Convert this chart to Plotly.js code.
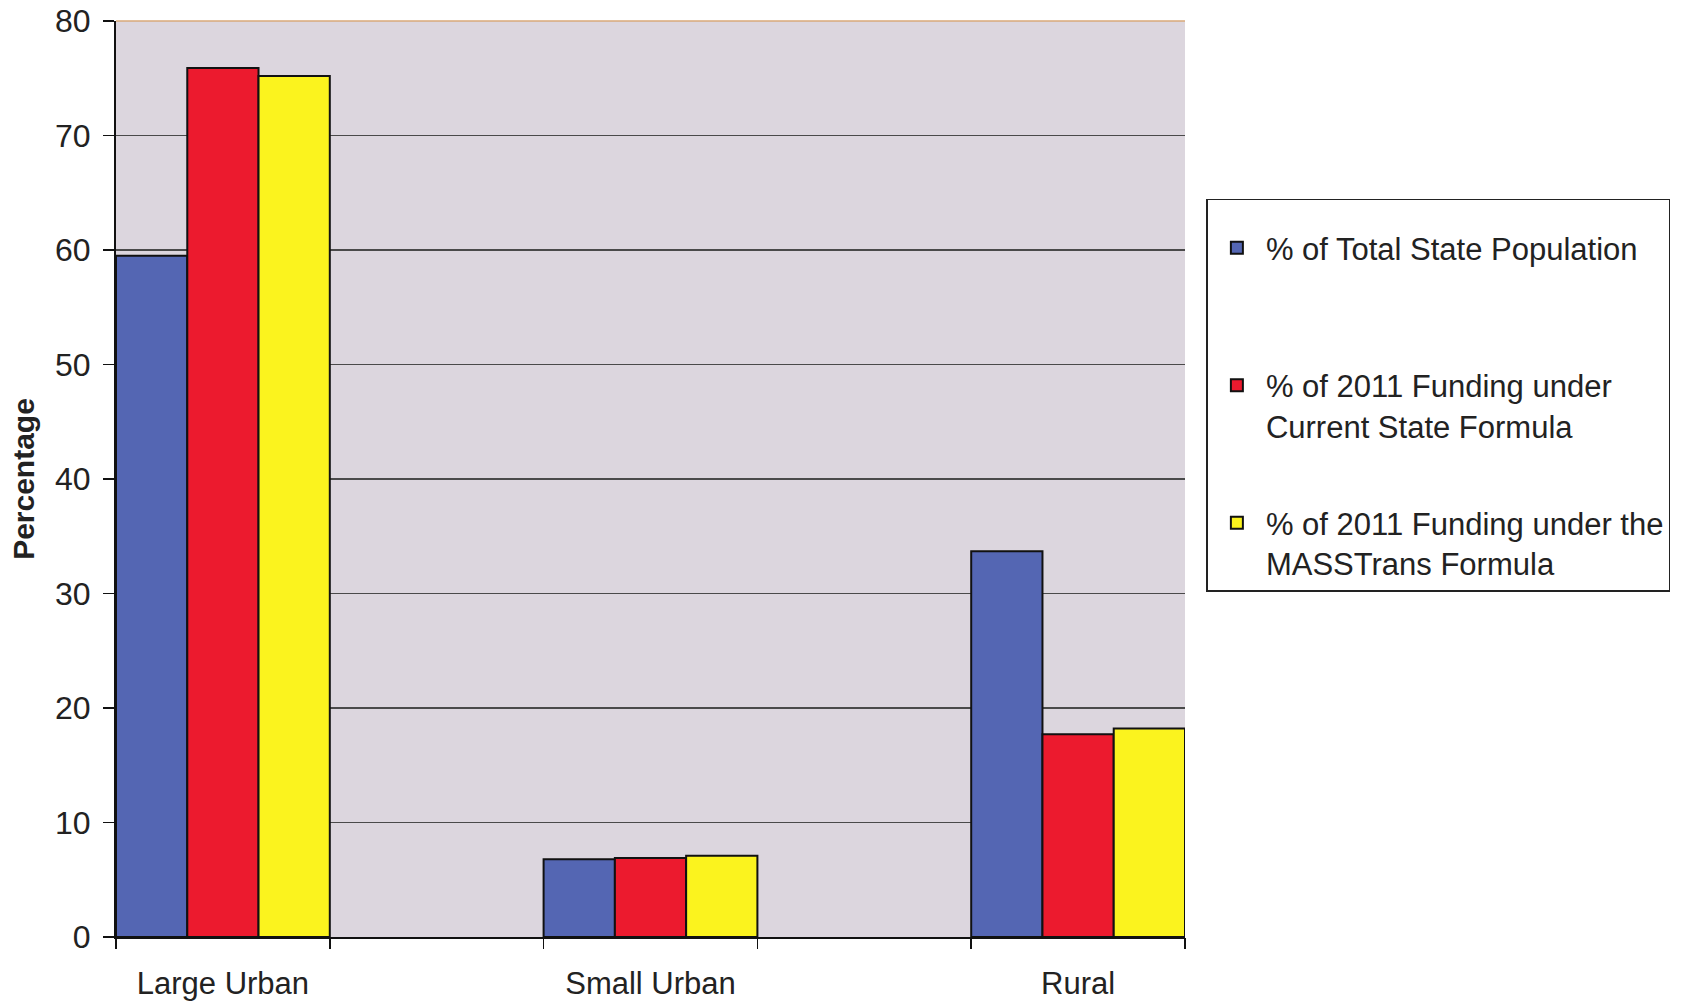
<!DOCTYPE html>
<html>
<head>
<meta charset="utf-8">
<script src="https://cdn.plot.ly/plotly-3.0.1.min.js"></script>
<style>html,body{margin:0;padding:0;background:#fff;}#chart{width:1685px;height:1002px;}</style>
</head>
<body>
<div id="chart"></div>
<script>
const categories = ["Large Urban", "Small Urban", "Rural"];
const seriesNames = [
  "% of Total State Population<br>\u00a0",
  "% of 2011 Funding under<br>Current State Formula",
  "% of 2011 Funding under the<br>MASSTrans Formula"
];
const populationPct = [59.5, 6.8, 33.7];
const currentFormulaPct = [75.9, 6.9, 17.7];
const massTransPct = [75.2, 7.1, 18.2];
const yTicks = [0, 10, 20, 30, 40, 50, 60, 70, 80];
const groupEdgeTicks = [-0.25, 0.25, 0.75, 1.25, 1.75, 2.25];

const colors = ["#5466b3", "#ec1a2e", "#fbf31e"];
const values = [populationPct, currentFormulaPct, massTransPct];
const FONT = "Liberation Sans, Arial, sans-serif";

const traces = values.map((v, i) => ({
  type: "bar",
  x: categories,
  y: v,
  name: seriesNames[i],
  legendgroup: "g" + i,
  marker: {color: colors[i], line: {color: "#111", width: 2}},
  hoverinfo: "y"
}));
// empty helper trace so the tick-only overlay axis (group edge ticks) is drawn
traces.push({type: "scatter", x: [], y: [], xaxis: "x2", yaxis: "y", showlegend: false, hoverinfo: "skip"});

const layout = {
  width: 1685, height: 1002,
  margin: {l: 116, r: 500, t: 21, b: 65, autoexpand: false},
  paper_bgcolor: "#ffffff",
  plot_bgcolor: "#dcd6de",
  font: {family: FONT, size: 31, color: "#222"},
  barmode: "group",
  bargap: 0.5,
  bargroupgap: 0,
  showlegend: true,
  legend: {
    x: 1.02, xanchor: "left", y: 0.806, yanchor: "top",
    bgcolor: "#ffffff", bordercolor: "#222", borderwidth: 1.5,
    font: {family: FONT, size: 31, color: "#222"},
    title: {text: "\u00a0", font: {family: FONT, size: 16}},
    traceorder: "grouped", tracegroupgap: 54, valign: "top",
    itemwidth: 48
  },
  xaxis: {
    type: "category",
    range: [-0.25, 2.25],
    showgrid: false, zeroline: false,
    showline: true, linecolor: "#111", linewidth: 2,
    ticks: "", ticklabelstandoff: 18,
    tickfont: {family: FONT, size: 31, color: "#222"}
  },
  xaxis2: {
    overlaying: "x", anchor: "y", side: "bottom",
    range: [-0.25, 2.25],
    tickmode: "array", tickvals: groupEdgeTicks,
    ticks: "outside", ticklen: 11, tickwidth: 1.5, tickcolor: "#111",
    showticklabels: false, showgrid: false, zeroline: false, showline: false
  },
  yaxis: {
    range: [0, 80],
    tickmode: "array", tickvals: yTicks,
    ticks: "outside", ticklen: 11, tickwidth: 1.5, tickcolor: "#111",
    ticklabelstandoff: 6,
    showgrid: true, gridcolor: "#4a4a4a", gridwidth: 1.3,
    zeroline: false,
    showline: true, linecolor: "#111", linewidth: 2,
    tickfont: {family: FONT, size: 32, color: "#222"},
    title: {text: "<b>Percentage</b>", font: {family: FONT, size: 30, color: "#222"}, standoff: 12}
  },
  shapes: [{type: "line", xref: "paper", yref: "paper", x0: 0, x1: 1, y0: 1, y1: 1,
            line: {color: "#d8a878", width: 1.5}}]
};

Plotly.newPlot("chart", traces, layout, {displayModeBar: false, staticPlot: true});
</script>
</body>
</html>
